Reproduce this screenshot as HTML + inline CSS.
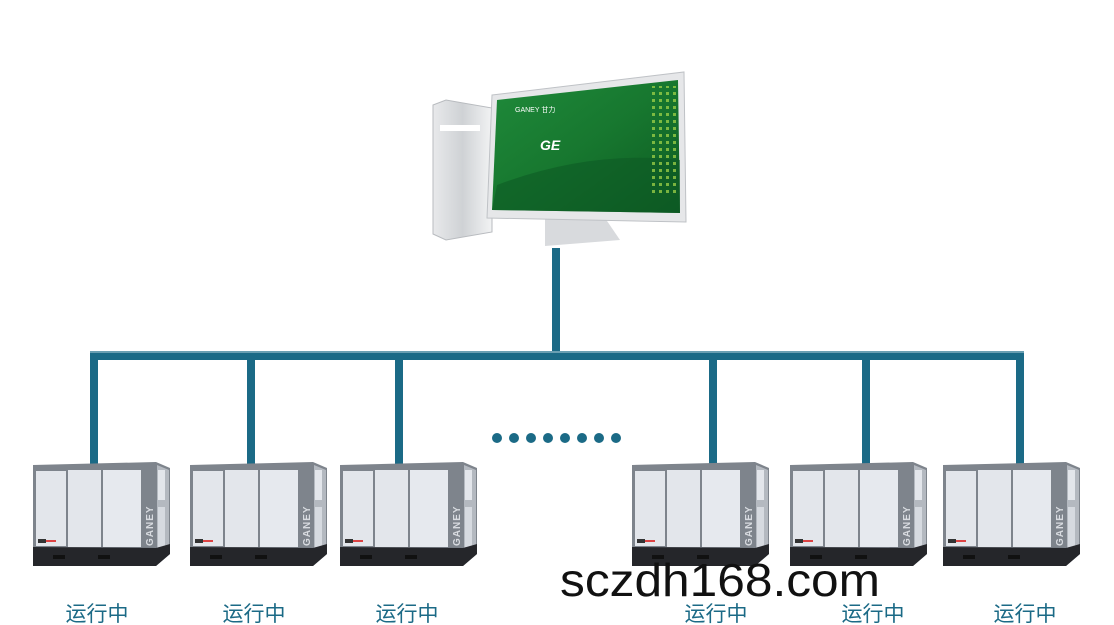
<!DOCTYPE html>
<html><head><meta charset="utf-8"><style>
html,body{margin:0;padding:0;background:#fff;}
svg{display:block;}
</style></head><body>
<svg width="1114" height="625" viewBox="0 0 1114 625" xmlns="http://www.w3.org/2000/svg">
<defs>
<linearGradient id="scr" x1="0" y1="0" x2="1" y2="1">
<stop offset="0" stop-color="#1f8a3a"/><stop offset="0.5" stop-color="#17772f"/><stop offset="1" stop-color="#0d5a22"/>
</linearGradient>
<linearGradient id="sil" x1="0" y1="0" x2="1" y2="0">
<stop offset="0" stop-color="#e8e9eb"/><stop offset="0.5" stop-color="#cfd2d5"/><stop offset="1" stop-color="#f2f3f4"/>
</linearGradient>
<pattern id="gd" width="7" height="7" patternUnits="userSpaceOnUse">
<rect x="1" y="1" width="3" height="3" fill="#a8d84a"/>
</pattern>
<g id="m">
<polygon points="0,3 123,0 137,6 137,92 123,104 0,104" fill="#7e848c"/>
<rect x="3" y="9" width="30" height="75" fill="#e3e6eb"/>
<rect x="35" y="8" width="33" height="77" fill="#e3e6eb"/>
<rect x="70" y="8" width="38" height="77" fill="#e6e9ee"/>
<polygon points="124,3 136,8 136,88 124,95" fill="#b4b9c0"/>
<rect x="125" y="8" width="7" height="30" fill="#e3e6eb"/>
<rect x="125" y="45" width="7" height="40" fill="#d6dae0"/>
<polygon points="0,85 123,86 137,82 137,92 123,104 0,104" fill="#25262a"/>
<rect x="20" y="93" width="12" height="4" fill="#111"/>
<rect x="65" y="93" width="12" height="4" fill="#111"/>
<text x="0" y="0" transform="translate(120,84) rotate(-90)" font-family="Liberation Sans,sans-serif" font-size="10" font-weight="bold" fill="#d8dbe0" letter-spacing="1">GANEY</text>
<rect x="5" y="77" width="8" height="4" fill="#333"/>
<rect x="13" y="78" width="10" height="2" fill="#d44"/>
</g>
</defs>
<!-- pipes -->
<g fill="#1b6a86">
<rect x="552" y="248" width="8" height="108"/>
<rect x="90" y="351" width="934" height="9"/>
<rect x="90" y="351" width="8" height="115"/>
<rect x="247" y="351" width="8" height="115"/>
<rect x="395" y="351" width="8" height="115"/>
<rect x="709" y="351" width="8" height="115"/>
<rect x="862" y="351" width="8" height="115"/>
<rect x="1016" y="351" width="8" height="115"/>
</g>
<rect x="90" y="351" width="934" height="2" fill="#6a9fb2"/>
<!-- dots -->
<g fill="#1b6a86">
<circle cx="497" cy="438" r="5"/><circle cx="514" cy="438" r="5"/><circle cx="531" cy="438" r="5"/><circle cx="548" cy="438" r="5"/>
<circle cx="565" cy="438" r="5"/><circle cx="582" cy="438" r="5"/><circle cx="599" cy="438" r="5"/><circle cx="616" cy="438" r="5"/>
</g>
<!-- computer -->
<polygon points="433,105 446,100 492,108 492,232 446,240 433,234" fill="url(#sil)" stroke="#b8bbbf"/>
<rect x="440" y="125" width="40" height="6" fill="#fff"/>
<polygon points="545,218 605,218 620,240 545,246" fill="#d8dadd"/>
<polygon points="492,95 684,72 686,222 487,218" fill="#e6e7e9" stroke="#bfc2c6"/>
<polygon points="497,100 678,80 680,213 492,210" fill="url(#scr)"/>
<path d="M497,185 Q590,150 680,160 L680,213 L492,210 Z" fill="#0e5a24" opacity="0.6"/>
<rect x="650" y="86" width="26" height="110" fill="url(#gd)" opacity="0.7"/>
<text x="515" y="112" font-family="Liberation Sans,sans-serif" font-size="7" fill="#fff">GANEY 甘力</text>
<text x="540" y="150" font-family="Liberation Sans,sans-serif" font-size="14" font-style="italic" font-weight="bold" fill="#fff">GE</text>
<!-- machines -->
<use href="#m" x="33" y="462"/>
<use href="#m" x="190" y="462"/>
<use href="#m" x="340" y="462"/>
<use href="#m" x="632" y="462"/>
<use href="#m" x="790" y="462"/>
<use href="#m" x="943" y="462"/>
<!-- labels -->
<g font-family="Liberation Sans,'Noto Sans CJK SC',sans-serif" font-size="21" fill="#1b6a86" text-anchor="middle">
<text x="97" y="621">运行中</text>
<text x="254" y="621">运行中</text>
<text x="407" y="621">运行中</text>
<text x="716" y="621">运行中</text>
<text x="873" y="621">运行中</text>
<text x="1025" y="621">运行中</text>
</g>
<text x="560" y="596" font-family="Liberation Sans,sans-serif" font-size="46" fill="#111" textLength="320" lengthAdjust="spacingAndGlyphs">sczdh168.com</text>
</svg>
</body></html>
